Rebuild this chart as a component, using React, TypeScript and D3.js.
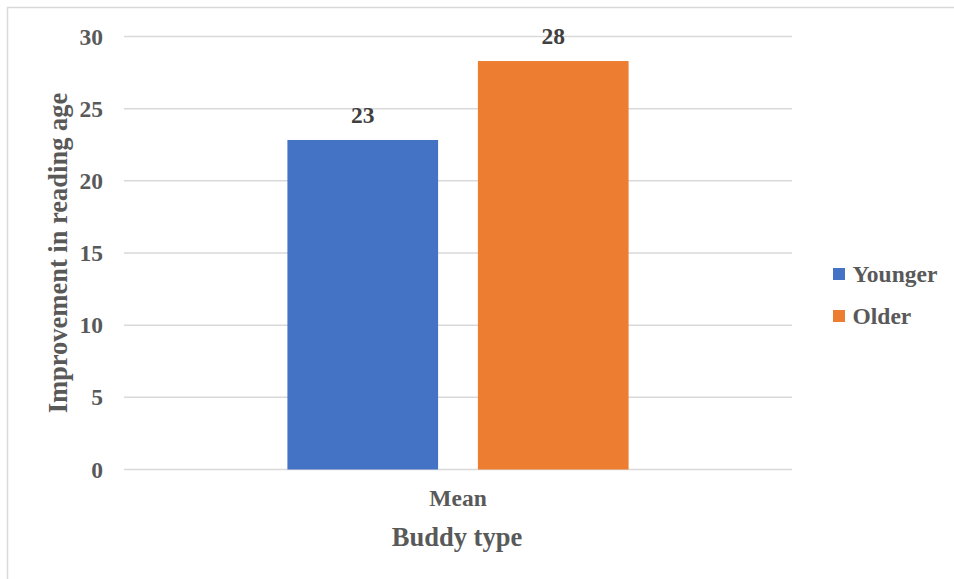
import React from "react";
import * as d3 from "d3";

const categories = ["Mean"];
const seriesNames = ["Younger", "Older"];
const seriesValues = [22.83, 28.3];
const dataLabels = ["23", "28"];
const yTicks = [0, 5, 10, 15, 20, 25, 30];
const colors = ["#4472C4", "#ED7D31"];

const W = 954;
const H = 579;
const plot = { left: 124, right: 792, top: 36.5, bottom: 469.5 };
const FONT = "'Liberation Serif', 'Times New Roman', serif";

export default function App() {
  const y = d3.scaleLinear().domain([0, 30]).range([plot.bottom, plot.top]);
  const x0 = d3.scaleBand().domain(categories).range([plot.left, plot.right]).paddingInner(0).paddingOuter(0.479);
  const x1 = d3.scaleBand().domain(seriesNames).range([0, x0.bandwidth()]).paddingInner(0.209).paddingOuter(0);

  return (
    <svg width={W} height={H} style={{ position: "absolute", left: 0, top: 0, display: "block" }}>
      <rect x={0} y={0} width={W} height={H} fill="#fff" />
      <rect x={7.5} y={7.5} width={W + 10} height={H + 10} fill="none" stroke="#d9d9d9" strokeWidth={1.5} />
      {yTicks.map((t) => (
        <g key={t}>
          <line x1={plot.left} x2={plot.right} y1={y(t)} y2={y(t)} stroke="#d9d9d9" strokeWidth={1.5} />
          <text x={103} y={y(t)} textAnchor="end" dominantBaseline="central" fontFamily={FONT} fontWeight="bold" fontSize={23.5} fill="#595959">
            {t}
          </text>
        </g>
      ))}
      {categories.map((c) => (
        <g key={c}>
          {seriesNames.map((s, i) => {
            const bx = (x0(c) as number) + (x1(s) as number);
            const bw = x1.bandwidth();
            return (
              <g key={s}>
                <rect x={bx} y={y(seriesValues[i])} width={bw} height={y(0) - y(seriesValues[i])} fill={colors[i]} />
                <text x={bx + bw / 2} y={y(seriesValues[i]) - 17} textAnchor="middle" fontFamily={FONT} fontWeight="bold" fontSize={23.5} fill="#404040">
                  {dataLabels[i]}
                </text>
              </g>
            );
          })}
          <text x={(x0(c) as number) + x0.bandwidth() / 2} y={498} textAnchor="middle" dominantBaseline="central" fontFamily={FONT} fontWeight="bold" fontSize={23.5} fill="#595959">
            {c}
          </text>
        </g>
      ))}
      <text x={457} y={537} textAnchor="middle" dominantBaseline="central" fontFamily={FONT} fontWeight="bold" fontSize={26.5} fill="#595959">
        Buddy type
      </text>
      <text transform={`translate(58,${(plot.top + plot.bottom) / 2 + 0}) rotate(-90)`} textAnchor="middle" dominantBaseline="central" fontFamily={FONT} fontWeight="bold" fontSize={26.5} fill="#595959">
        Improvement  in reading age
      </text>
      {seriesNames.map((s, i) => (
        <g key={s} transform={`translate(833,${268 + i * 42})`}>
          <rect x={0} y={0} width={12} height={12} fill={colors[i]} />
          <text x={19.5} y={6} dominantBaseline="central" fontFamily={FONT} fontWeight="bold" fontSize={23.5} fill="#595959">
            {s}
          </text>
        </g>
      ))}
    </svg>
  );
}
